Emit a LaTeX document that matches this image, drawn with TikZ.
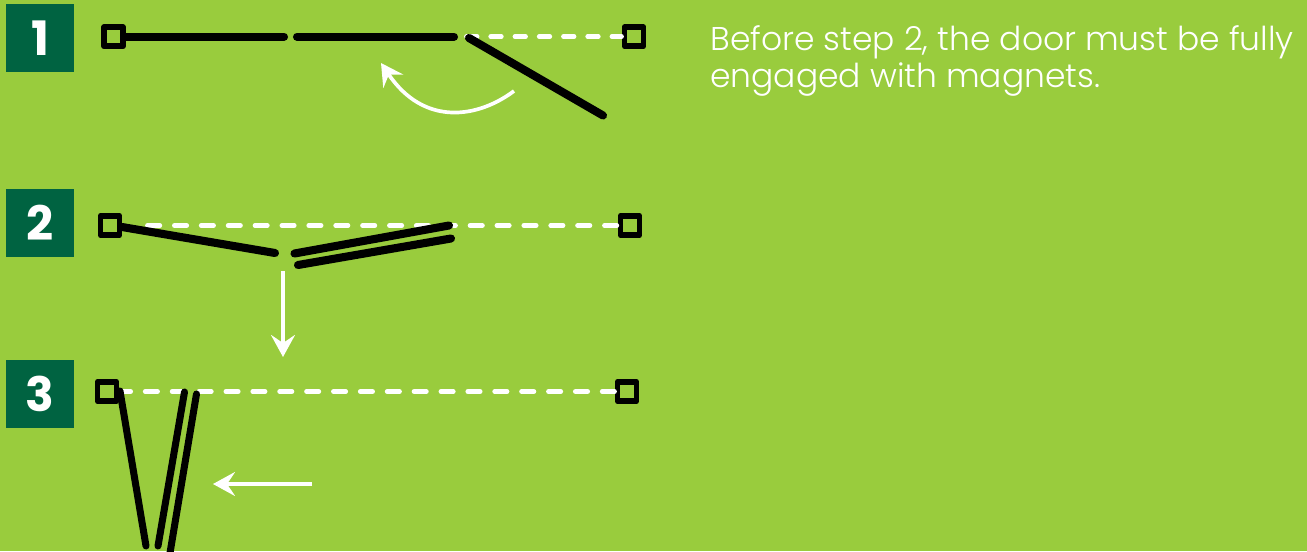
\documentclass[tikz,border=0pt]{standalone}
\usepackage{fontspec}
\setmainfont{Poppins}[UprightFont=* Light,BoldFont=* Bold]
\usetikzlibrary{arrows.meta}
\definecolor{leaf}{HTML}{99CC3D}
\definecolor{pine}{HTML}{006341}
\tikzset{
  badge/.style={fill=pine,text=white,minimum size=1.36cm,inner sep=0pt,font=\fontsize{27}{27}\selectfont\bfseries},
  hinge/.style={draw=black,line width=3.4pt,minimum size=.38cm,inner sep=0pt,line join=round},
  door/.style={black,line width=4.6pt,line cap=round},
  track/.style={white,line width=2.7pt,line cap=round,dash pattern=on 7pt off 8.3pt},
  move/.style={white,line width=2.1pt,-{Stealth[length=12.5pt,width=13.6pt,inset=4.5pt]}}
}

\begin{document}
\begin{tikzpicture}[x=.02cm,y=-.02cm,line join=round]
  \fill[leaf] (0,0) rectangle (1307,551);
  \clip (0,0) rectangle (1307,551);

  % badges
  \foreach \n/\ypos in {1/38,2/223,3/394}
    \node[badge] (badge\n) at (40,\ypos) {\n};

  % step one
  \node[hinge] (hingeAl) at (113.5,36.7) {};
  \node[hinge] (hingeAr) at (634,36.7) {};
  \coordinate (trackA) at (466.5,36.7);
  \draw[track,dash pattern=on 6pt off 7.8pt] (trackA) -- (hingeAr);
  \coordinate (leafAa) at (284,36.7);
  \coordinate (leafAb) at (297,36.7);
  \coordinate (leafAc) at (454,36.7);
  \coordinate (leafAd) at (469,38);
  \coordinate (leafAe) at (603,115.5);
  \draw[door] (hingeAl.east) -- (leafAa);
  \draw[door] (leafAb) -- (leafAc);
  \draw[door] (leafAd) -- (leafAe);
  \coordinate (swingA) at (514,91);
  \coordinate (swingB) at (381,63);
  \draw[move] (swingA) .. controls (478,118) and (424,127) .. (swingB);

  % step two
  \node[hinge] (hingeBl) at (110,225.5) {};
  \node[hinge] (hingeBr) at (630,225.5) {};
  \coordinate (trackB) at (147.5,225.5);
  \draw[track] (trackB) -- (hingeBr);
  \coordinate (leafBa) at (122,227);
  \coordinate (leafBb) at (275,253);
  \coordinate (leafBc) at (294.5,253.5);
  \coordinate (leafBd) at (449,225.5);
  \coordinate (leafBe) at (298,265);
  \coordinate (leafBf) at (451,238.5);
  \draw[door] (leafBa) -- (leafBb);
  \draw[door] (leafBc) -- (leafBd);
  \draw[door] (leafBe) -- (leafBf);
  \coordinate (pushA) at (283,271);
  \coordinate (pushB) at (283,357);
  \draw[move] (pushA) -- (pushB);

  % step three
  \node[hinge] (hingeCl) at (107,391.5) {};
  \node[hinge] (hingeCr) at (627,391.5) {};
  \coordinate (trackC) at (121,391.5);
  \draw[track,dash phase=1.5pt] (trackC) -- (hingeCr);
  \coordinate (leafCa) at (120,391);
  \coordinate (leafCb) at (146,546);
  \coordinate (leafCc) at (184.5,392);
  \coordinate (leafCd) at (158,546);
  \coordinate (leafCe) at (196.5,394);
  \coordinate (leafCf) at (170,553);
  \draw[door,line width=4pt] (leafCa) -- (leafCb);
  \draw[door,line width=4pt] (leafCc) -- (leafCd);
  \draw[door,line width=4pt] (leafCe) -- (leafCf);
  \coordinate (pushC) at (312,484);
  \coordinate (pushD) at (213,484);
  \draw[move] (pushC) -- (pushD);

  % note
  \node[white,anchor=base west,inner sep=0pt,align=left,font=\fontsize{18.75}{20.7}\selectfont] (note) at (710,87)
    {Before step 2, the door must be fully\\engaged with magnets.};
\end{tikzpicture}
\end{document}
